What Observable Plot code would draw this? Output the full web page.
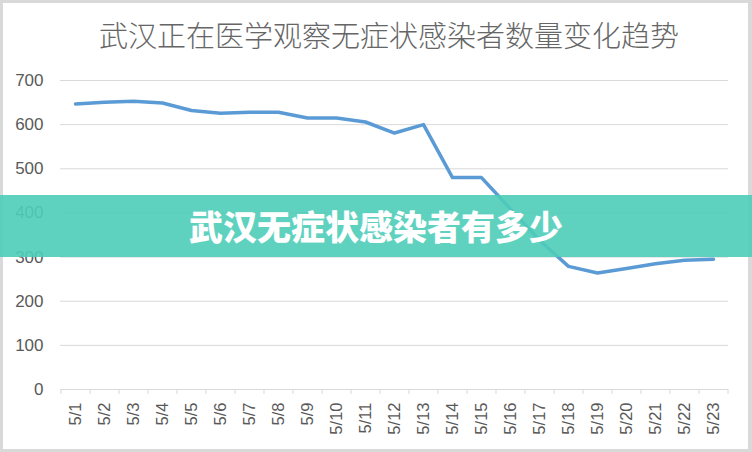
<!DOCTYPE html>
<html><head><meta charset="utf-8">
<script src="https://cdn.jsdelivr.net/npm/d3@7"></script>
<script src="https://cdn.jsdelivr.net/npm/@observablehq/plot@0.6"></script>
<style>
body{margin:0;background:#d9d9d9;width:752px;height:452px;overflow:hidden;position:relative;font-family:"Noto Sans CJK SC","Noto Sans",sans-serif}
#card{position:absolute;left:3px;top:3px;width:745px;height:446px;background:#fff}
#title{position:absolute;top:14px;left:13px;width:752px;text-align:center;font-size:29px;font-weight:300;color:#666;line-height:40px;white-space:nowrap}
#chart{position:absolute;left:0;top:0}
#banner{position:absolute;left:0;top:195px;width:752px;height:62px;background:rgba(78,205,184,0.9);color:#fff;font-weight:900;font-size:34px;line-height:62px;text-align:center;white-space:nowrap}
</style></head>
<body>
<div id="card"></div>
<div id="chart"></div>
<div id="title">武汉正在医学观察无症状感染者数量变化趋势</div>
<div id="banner">武汉无症状感染者有多少</div>
<script>
const dates = ["5/1","5/2","5/3","5/4","5/5","5/6","5/7","5/8","5/9","5/10","5/11","5/12","5/13","5/14","5/15","5/16","5/17","5/18","5/19","5/20","5/21","5/22","5/23"];
const values = [647,651,653,649,632,626,628,628,615,615,606,581,600,480,480,409,338,279,264,274,285,293,295];
const yTicks = [0,100,200,300,400,500,600,700];

const data = dates.map((d,i)=>({date:d, value:values[i]}));
const W = 752, H = 452, mL = 60, mR = 24, mT = 80, mB = 63;
const step = (W - mL - mR) / dates.length;

const plot = Plot.plot({
  width: W, height: H,
  marginLeft: mL, marginRight: mR, marginTop: mT, marginBottom: mB,
  style: {background: "transparent", color: "#595959", fontFamily: "'Liberation Sans', 'DejaVu Sans', sans-serif"},
  x: {type: "point", domain: dates, padding: 0.5, label: null},
  y: {domain: [0, 700], label: null},
  marks: [
    Plot.gridY(yTicks.filter(t=>t>0), {stroke: "#d9d9d9", strokeOpacity: 1}),
    Plot.ruleY([0], {stroke: "#d9d9d9"}),
    Plot.ruleX(dates, {x: d=>d, y1: 0, y2: 0, dx: -step/2, insetBottom: -5, stroke: "#d9d9d9"}),
    Plot.ruleX(dates.slice(-1), {x: d=>d, y1: 0, y2: 0, dx: step/2, insetBottom: -5, stroke: "#d9d9d9"}),
    Plot.axisY({ticks: yTicks, tickSize: 0, tickPadding: 17, fontSize: 17, label: null}),
    Plot.axisX({tickSize: 0, tickPadding: 13, tickRotate: -90, fontSize: 16.5, label: null}),
    Plot.line(data, {x: "date", y: "value", stroke: "#5b9bd5", strokeWidth: 3.5, strokeLinejoin: "round", strokeLinecap: "round"})
  ]
});
document.getElementById("chart").appendChild(plot);
</script>
</body></html>
